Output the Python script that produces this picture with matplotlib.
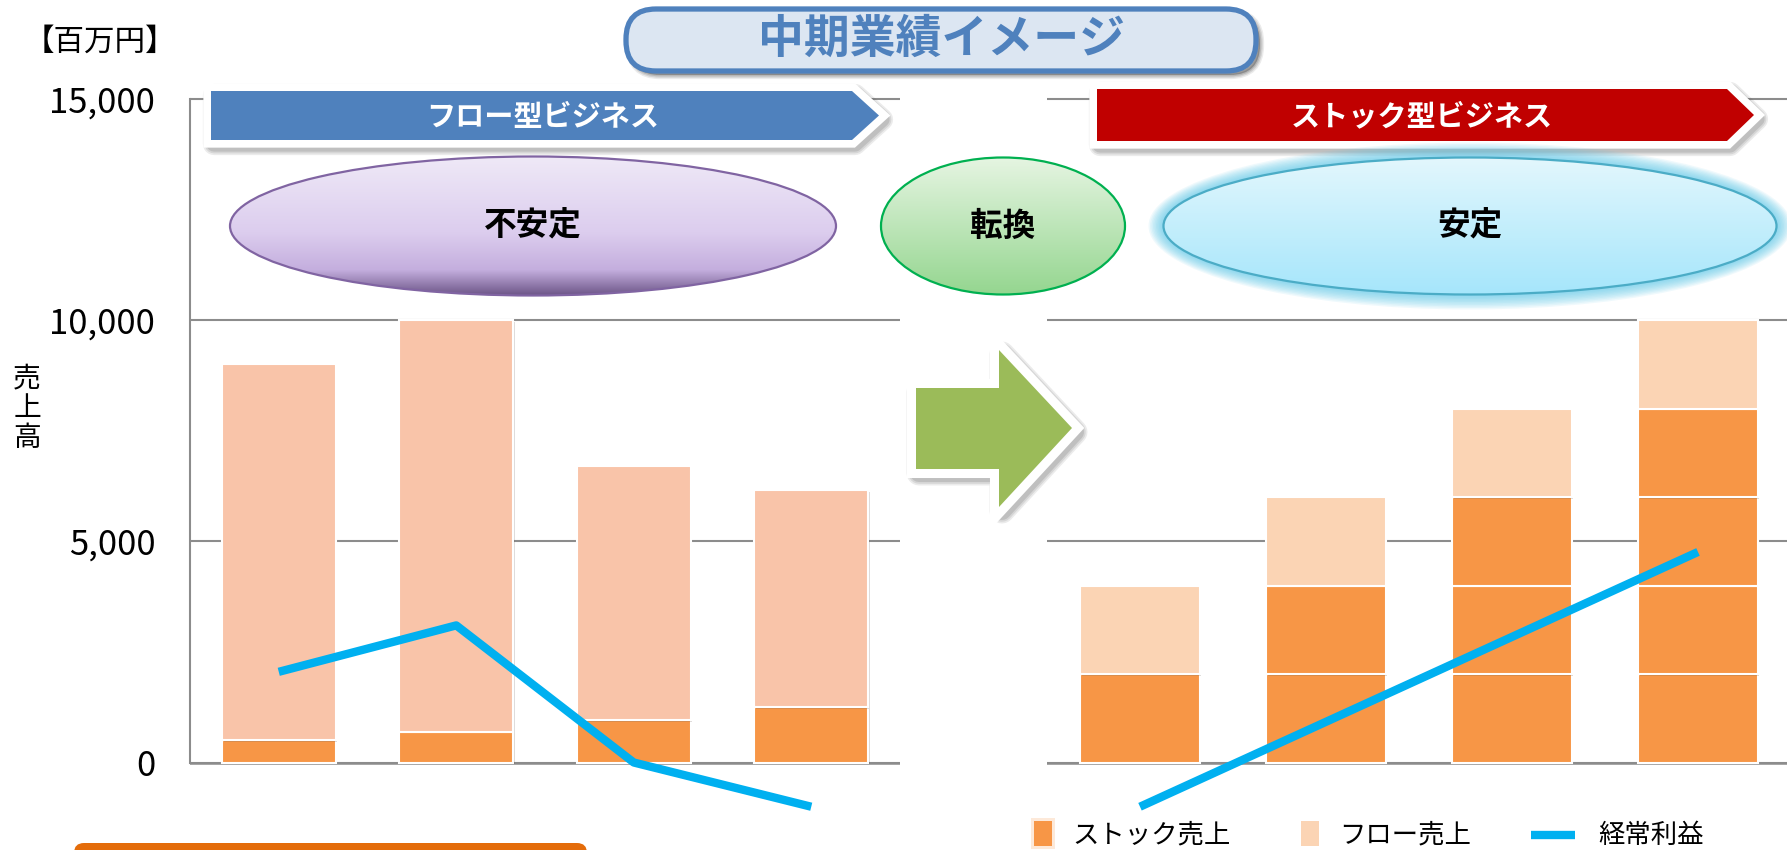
import numpy as np
import matplotlib
matplotlib.use("Agg")
import matplotlib.pyplot as plt
from matplotlib.patches import Ellipse, Polygon, FancyBboxPatch, Rectangle
from matplotlib.colors import LinearSegmentedColormap
from matplotlib.lines import Line2D
import matplotlib.patheffects as pe

plt.rcParams['font.family'] = ['Noto Sans CJK JP', 'DejaVu Sans']

# データ（百万円）
left_stock = [500, 700, 950, 1250]
left_flow = [8500, 9300, 5750, 4900]
left_profit = [2050, 3100, 0, -1000]

right_stock = [2000, 4000, 6000, 8000]
right_flow = [2000, 2000, 2000, 2000]
right_profit = [-1000, 920, 2840, 4760]

stock_block = 2000
yticks = [0, 5000, 10000, 15000]

c_stock = '#F79646'
c_flow_l = '#F9C4A9'
c_flow_r = '#FBD4B4'
c_profit = '#00B0F0'
c_grid = '#8C8C8C'

W, H = 1787, 850
fig = plt.figure(figsize=(W / 100, H / 100), dpi=100)

ylo, yhi = -1978, 17238
bar_fx = [pe.SimplePatchShadow(offset=(1.2, -1.2), alpha=0.18), pe.Normal()]


def setup(ax, show_axis):
    ax.set_xlim(-0.5, 3.5)
    ax.set_ylim(ylo, yhi)
    ax.set_yticks(yticks)
    ax.set_yticklabels([f'{v:,}' for v in yticks])
    ax.yaxis.grid(True, color=c_grid, lw=1.5)
    ax.set_axisbelow(True)
    ax.set_xticks([])
    for s in ['top', 'right', 'bottom']:
        ax.spines[s].set_visible(False)
    ax.axhline(0, color=c_grid, lw=1.8, zorder=1)
    if show_axis:
        ax.spines['left'].set_bounds(0, 15000)
        ax.spines['left'].set_color(c_grid)
        ax.spines['left'].set_linewidth(1.5)
        ax.tick_params(axis='y', length=0, pad=25, labelsize=25)
    else:
        ax.spines['left'].set_visible(False)
        ax.tick_params(axis='y', length=0, labelleft=False)
    ax.patch.set_alpha(0)


# 左：フロー型
ax1 = fig.add_axes([190 / W, 0, 710 / W, 1])
setup(ax1, True)
x = np.arange(len(left_stock))
b1 = ax1.bar(x, left_stock, width=0.64, color=c_stock, edgecolor='white', lw=1.5)
b2 = ax1.bar(x, left_flow, bottom=left_stock, width=0.64, color=c_flow_l, edgecolor='white', lw=1.5)
for p in list(b1) + list(b2):
    p.set_path_effects(bar_fx)
ax1.plot(x, left_profit, color=c_profit, lw=6, solid_capstyle='butt', zorder=5)

# 右：ストック型
ax2 = fig.add_axes([1047 / W, 0, 744 / W, 1])
setup(ax2, False)
stock = np.array(right_stock)
for k in range(int(stock.max() // stock_block)):
    seg = np.clip(stock - k * stock_block, 0, stock_block)
    bs = ax2.bar(x, seg, bottom=k * stock_block, width=0.64, color=c_stock, edgecolor='white', lw=1.5)
    for p, s in zip(bs, seg):
        if s <= 0:
            p.set_visible(False)
        p.set_path_effects(bar_fx)
bf = ax2.bar(x, right_flow, bottom=right_stock, width=0.64, color=c_flow_r, edgecolor='white', lw=1.5)
for p in bf:
    p.set_path_effects(bar_fx)
ax2.plot(x, right_profit, color=c_profit, lw=6, solid_capstyle='butt', zorder=5)

# 上に重ねる図形（ピクセル座標）
ov = fig.add_axes([0, 0, 1, 1], zorder=10)
ov.set_xlim(0, W)
ov.set_ylim(H, 0)
ov.axis('off')
ov.patch.set_visible(False)


def soft_shadow(pts, dx=3, dy=4, lw=11):
    # ぼかし風の影
    for i, a in enumerate([0.10, 0.12, 0.15]):
        sp = [(px + dx, py + dy) for px, py in pts]
        ov.add_patch(Polygon(sp, closed=True, fc='#404040', ec='#404040',
                             lw=lw + 5 - 2.5 * i, alpha=a, joinstyle='round'))


ov.text(100, 42, '【百万円】', fontsize=22, ha='center', va='center')
ov.text(27, 408, '売\n上\n高', fontsize=20, ha='center', va='center', linespacing=1.0)

# タイトル
for i, a in enumerate([0.10, 0.14, 0.18]):
    ov.add_patch(FancyBboxPatch((630, 13), 630, 62, boxstyle='round,pad=0,rounding_size=30',
                                fc='#404040', ec='#404040', lw=6 - 2 * i, alpha=a))
tb = FancyBboxPatch((626, 9), 630, 62, boxstyle='round,pad=0,rounding_size=30',
                    fc='#DCE6F2', ec='#4F81BD', lw=3.8)
ov.add_patch(tb)
ov.text(941, 40, '中期業績イメージ', fontsize=33, fontweight='bold', color='#4F81BD',
        ha='center', va='center')


def banner(x0, x1, tip, y0, y1, color, label, tx):
    ym = (y0 + y1) / 2
    pts = [(x0, y0), (x1, y0), (tip, ym), (x1, y1), (x0, y1)]
    soft_shadow(pts)
    ov.add_patch(Polygon(pts, closed=True, fc='white', ec='white', lw=11, joinstyle='miter'))
    ov.add_patch(Polygon(pts, closed=True, fc=color, ec='none'))
    ov.text(tx, ym + 1, label, fontsize=21, fontweight='bold', color='white', ha='center', va='center')


banner(211, 852, 879, 91, 140, '#4F81BD', 'フロー型ビジネス', 543)
banner(1097, 1727, 1754, 89, 141, '#C00000', 'ストック型ビジネス', 1422)


def grad_ellipse(cx, cy, w, h, colors, edge, label, glow=None):
    if glow is not None:
        for i in range(10, 0, -1):
            g = Ellipse((cx, cy), w + 3 * i, h + 3 * i, fc=glow, ec='none', alpha=0.09)
            ov.add_patch(g)
    e = Ellipse((cx, cy), w, h, fc='none', ec=edge, lw=1.6, zorder=3)
    ov.add_patch(e)
    cmap = LinearSegmentedColormap.from_list('g', colors)
    grad = np.linspace(0, 1, 256).reshape(-1, 1)
    im = ov.imshow(grad, cmap=cmap, extent=(cx - w / 2, cx + w / 2, cy + h / 2, cy - h / 2),
                   origin='upper', aspect='auto', zorder=2)
    clip = Ellipse((cx, cy), w, h, transform=ov.transData)
    im.set_clip_path(clip)
    ov.text(cx, cy, label, fontsize=23.5, fontweight='bold', ha='center', va='center', zorder=4)


grad_ellipse(533, 226, 606, 139,
             [(0, '#EFE9F7'), (0.55, '#DCCDEE'), (0.82, '#C4AEDE'), (1, '#6E5789')],
             '#8064A2', '不安定')
grad_ellipse(1003, 226, 244, 137, [(0, '#E6F5E2'), (1, '#95D690')], '#00B050', '転換')
grad_ellipse(1470, 226, 613, 137, [(0, '#E3F7FD'), (1, '#A6E6FB')], '#4BACC6', '安定',
             glow='#4FC3E8')

ov.set_xlim(0, W)
ov.set_ylim(H, 0)

# 矢印
arrow_pts = [(916, 388), (999, 388), (999, 350), (1072, 428), (999, 507), (999, 469), (916, 469)]
soft_shadow(arrow_pts, dx=3, dy=4, lw=13)
ov.add_patch(Polygon(arrow_pts, closed=True, fc='white', ec='white', lw=13, joinstyle='miter'))
ov.add_patch(Polygon(arrow_pts, closed=True, fc='#9BBB59', ec='none'))

# 凡例
ly = 835
ov.add_patch(Rectangle((1031, 818), 24, 31, fc='#FDE9D9', ec='none'))
ov.add_patch(Rectangle((1034, 821), 18, 25, fc=c_stock, ec='none'))
ov.text(1072, ly, 'ストック売上', fontsize=19, ha='left', va='center')
ov.add_patch(Rectangle((1301, 821), 18, 25, fc=c_flow_r, ec='none'))
ov.text(1339, ly, 'フロー売上', fontsize=19, ha='left', va='center')
ov.add_line(Line2D([1531, 1575], [ly, ly], color=c_profit, lw=6, solid_capstyle='butt'))
ov.text(1598, ly, '経常利益', fontsize=19, ha='left', va='center')

# 下部のボックス（一部のみ表示）
ov.add_patch(FancyBboxPatch((74, 843), 513, 40, boxstyle='round,pad=0,rounding_size=10',
                            fc='#E46C0A', ec='none'))

fig.savefig('out.png', dpi=100)
